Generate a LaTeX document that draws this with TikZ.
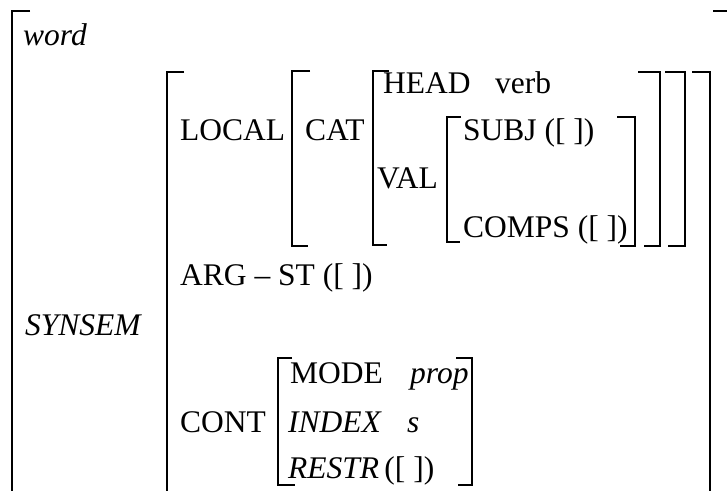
\documentclass[tikz,border=0pt]{standalone}
\usepackage{fontspec}
\setmainfont{Liberation Serif}

\tikzset{
	feat/.style={anchor=base west, inner sep=0pt,
		font=\fontsize{31.5}{38}\selectfont},
	brak/.style={draw=black, line width=1.8pt}
}

\begin{document}
\begin{tikzpicture}[
	y=-1pt,
	x=1pt,
	scale=1] {

\useasboundingbox (0,0) rectangle (727,490);

% outer brackets (word)
\draw[brak] (30,11) -| (12,491);
\draw[brak] (713,11) -| (728,491);
\node[feat] (word) at (23,45) {\textit{word}};

% synsem brackets
\draw[brak] (184,72) -| (167,491);
\draw[brak] (692,72) -| (710,491);
\node[feat] (synsem) at (25,335) {\textit{SYNSEM}};

% local
\node[feat] (local) at (180,140) {LOCAL};
\draw[brak] (310,71) -| (292,246) -- (308,246);
\draw[brak] (665,72) -| (685,246) -- (668,246);

% cat
\node[feat] (cat) at (305,140) {CAT};
\draw[brak] (389,71) -| (373,245) -- (387,245);
\draw[brak] (638,72) -| (660,246) -- (644,246);
\node[feat] (head) at (383,93) {HEAD};
\node[feat] (verb) at (495,93) {verb};

% val
\node[feat] (val) at (377,188) {VAL};
\draw[brak] (461,117) -| (447,242) -- (460,242);
\draw[brak] (617,117) -| (635,246) -- (620,246);
\node[feat] (subj) at (463,140) {SUBJ ([ ])};
\node[feat] (comps) at (463,237) {COMPS ([ ])};

% arg-st
\node[feat] (argst) at (180,285) {ARG -- ST ([ ])};

% cont
\node[feat] (cont) at (180,432) {CONT};
\draw[brak] (292,358) -| (278,485) -- (295,485);
\draw[brak] (456,358) -| (472,485) -- (458,485);
\node[feat] (mode) at (290,383) {MODE};
\node[feat] (prop) at (410,383) {\textit{prop}};
\node[feat] (index) at (288,432) {\textit{INDEX}};
\node[feat] (s) at (407,432) {\textit{s}};
\node[feat] (restr) at (288,478) {\textit{RESTR}\,([ ])};
}\end{tikzpicture}
\end{document}
